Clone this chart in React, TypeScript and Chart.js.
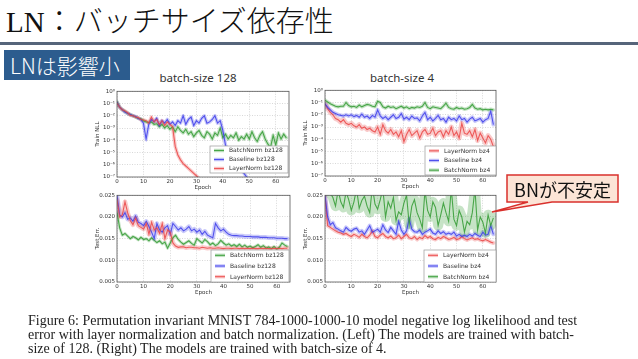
import React, { useEffect, useRef } from "react";
import { Chart, registerables } from "chart.js";
Chart.register(...registerables);

// ---------- data ----------
const EPOCHS = Array.from({ length: 65 }, (_, i) => i);
const X_TICKS = [0, 10, 20, 30, 40, 50, 60];
const NLL_TICKS = [1e-7, 1e-6, 1e-5, 1e-4, 1e-3, 1e-2, 1e-1, 1];
const NLL_TICK_LABELS = ["10⁻⁷", "10⁻⁶", "10⁻⁵", "10⁻⁴", "10⁻³", "10⁻²", "10⁻¹", "10⁰"];
const ERR_TICKS = [0.005, 0.01, 0.015, 0.02, 0.025];
const ERR_TICK_LABELS = ["0.005", "0.010", "0.015", "0.020", "0.025"];

// Train NLL, batch-size 128 (log10 values)
const NLL128_BN = [-0.85, -1.3, -1.5, -1.65, -1.8, -1.9, -2.0, -2.1, -2.2, -2.25, -2.4, -2.5, -2.55, -2.5, -2.7, -2.65, -2.9, -2.7, -3.0, -2.8, -3.1, -2.9, -3.3, -2.9, -3.2, -3.4, -3.1, -3.5, -3.3, -3.7, -3.4, -3.2, -3.6, -3.8, -3.3, -3.5, -3.9, -3.4, -3.6, -3.0, -3.8, -3.5, -3.9, -3.6, -3.8, -3.4, -4.0, -3.7, -3.9, -3.5, -3.9, -3.3, -3.8, -4.1, -3.6, -3.3, -3.9, -4.3, -4.6, -3.6, -4.4, -3.4, -3.9, -3.5, -3.8];
const NLL128_BASE = [-0.9, -1.3, -1.5, -1.7, -1.8, -1.9, -2.0, -2.05, -2.2, -2.3, -2.6, -3.9, -2.7, -2.3, -2.5, -2.2, -2.8, -2.4, -2.6, -2.3, -2.7, -2.5, -2.8, -2.4, -2.6, -2.0, -2.7, -2.3, -2.1, -2.8, -2.4, -2.6, -2.2, -2.0, -2.6, -2.5, -2.3, -2.0, -2.6, -2.4, -3.2, -4.4, -4.8, -5.1, -5.5, -5.8, -6.1, -6.4, -6.7, -7.0, -7.3, null, null, null, null, null, null, null, null, null, null, null, null, null, null];
const NLL128_LN = [-0.95, -1.3, -1.5, -1.6, -1.75, -1.95, -2.0, -2.1, -2.15, -2.3, -2.35, -2.4, -2.6, -2.1, -2.5, -2.3, -2.7, -2.4, -2.8, -2.5, -2.7, -2.9, -4.5, -5.2, -5.6, -5.9, -6.1, -6.3, -6.5, -6.7, -6.9, -7.1, -7.3, null, null, null, null, null, null, null, null, null, null, null, null, null, null, null, null, null, null, null, null, null, null, null, null, null, null, null, null, null, null, null, null];

// Train NLL, batch-size 4 (log10 values)
const NLL4_LN = [-1.1, -1.5, -1.8, -2.0, -2.3, -2.4, -2.6, -2.4, -2.7, -2.8, -2.7, -2.9, -3.0, -2.8, -3.1, -3.0, -3.2, -3.1, -3.3, -3.4, -3.0, -3.6, -2.8, -3.3, -3.5, -3.2, -3.6, -3.4, -3.8, -3.3, -4.2, -3.6, -3.2, -3.7, -3.5, -3.3, -3.9, -3.4, -3.2, -3.6, -3.5, -3.1, -3.7, -3.4, -3.3, -3.8, -3.3, -3.6, -3.0, -3.7, -3.4, -3.9, -2.7, -3.5, -3.6, -3.3, -3.8, -3.2, -4.1, -3.5, -3.9, -4.3, -3.7, -4.0, -4.6];
const NLL4_BASE = [-1.1, -1.4, -1.6, -1.8, -1.9, -2.0, -2.05, -2.1, -2.0, -2.1, -2.0, -2.15, -2.05, -2.2, -1.95, -2.2, -2.1, -2.3, -2.05, -2.2, -1.6, -2.1, -2.3, -2.15, -2.4, -2.2, -2.0, -2.3, -2.2, -1.9, -2.35, -2.2, -2.4, -2.1, -2.3, -2.25, -2.5, -2.1, -1.8, -2.4, -2.2, -2.5, -2.3, -2.05, -2.4, -2.3, -2.6, -2.2, -2.4, -2.3, -2.5, -2.1, -2.4, -2.3, -2.6, -2.35, -2.2, -2.5, -2.4, -2.3, -2.6, -2.4, -2.3, -1.7, -2.8];
const NLL4_BN = [-0.8, -0.95, -1.1, -1.2, -1.3, -1.35, -1.3, -1.3, -1.0, -1.25, -1.35, -1.3, -1.4, -1.2, -1.35, -1.25, -1.15, -1.2, -1.3, -1.35, -0.9, -1.0, -1.35, -1.45, -1.3, -1.4, -1.35, -1.5, -1.4, -1.3, -1.45, -1.35, -1.5, -1.4, -1.45, -1.35, -1.4, -1.3, -1.0, -1.4, -1.5, -1.35, -1.4, -1.45, -1.5, -1.3, -1.05, -1.4, -1.5, -1.55, -1.4, -1.5, -1.45, -1.55, -1.5, -1.4, -1.15, -1.45, -1.55, -1.5, -1.6, -1.55, -1.6, -1.55, -1.6];

// Test error, batch-size 128
const ERR128_BN = [0.021, 0.0175, 0.0158, 0.0162, 0.0156, 0.015, 0.0155, 0.0152, 0.0147, 0.0153, 0.0148, 0.015, 0.0145, 0.0152, 0.0146, 0.0141, 0.0145, 0.0138, 0.0142, 0.0128, 0.014, 0.0152, 0.0158, 0.0148, 0.0142, 0.0137, 0.0141, 0.0145, 0.0139, 0.0135, 0.015, 0.0145, 0.014, 0.0148, 0.0143, 0.0136, 0.014, 0.0134, 0.0138, 0.0146, 0.014, 0.0135, 0.0138, 0.0133, 0.0136, 0.0132, 0.0137, 0.0131, 0.0135, 0.013, 0.0133, 0.0129, 0.0132, 0.0136, 0.013, 0.0134, 0.0128, 0.0131, 0.0127, 0.0132, 0.0126, 0.013, 0.014, 0.0135, 0.0132];
const ERR128_BASE = [0.025, 0.0205, 0.02, 0.021, 0.0195, 0.0198, 0.019, 0.0202, 0.0188, 0.0185, 0.018, 0.019, 0.0178, 0.0165, 0.015, 0.0185, 0.017, 0.0165, 0.0175, 0.018, 0.016, 0.0185, 0.0178, 0.017, 0.0175, 0.0168, 0.0172, 0.0178, 0.0168, 0.0172, 0.0165, 0.017, 0.016, 0.0167, 0.0158, 0.0155, 0.0152, 0.0185, 0.0175, 0.0168, 0.0172, 0.0165, 0.016, 0.0158, 0.0157, 0.0157, 0.0156, 0.0156, 0.0155, 0.0155, 0.0155, 0.0154, 0.0154, 0.0154, 0.0153, 0.0153, 0.0153, 0.0152, 0.0152, 0.0152, 0.0151, 0.0151, 0.0151, 0.015, 0.015];
const ERR128_LN = [0.024, 0.02, 0.0205, 0.0235, 0.021, 0.0192, 0.0182, 0.0198, 0.018, 0.0176, 0.0172, 0.0185, 0.016, 0.0188, 0.017, 0.0175, 0.0162, 0.0185, 0.015, 0.017, 0.0165, 0.014, 0.0133, 0.013, 0.0131, 0.0131, 0.0129, 0.013, 0.013, 0.0129, 0.0129, 0.0128, 0.013, 0.0129, 0.0128, 0.0129, 0.0128, 0.0128, 0.0129, 0.0128, 0.0127, 0.0128, 0.0128, 0.0127, 0.0128, 0.0128, 0.0127, 0.0128, 0.0127, 0.0128, 0.0127, 0.0128, 0.0127, 0.0127, 0.0128, 0.0127, 0.0128, 0.0127, 0.0127, 0.0128, 0.0127, 0.0128, 0.0127, 0.0128, 0.0128];

// Test error, batch-size 4
const ERR4_LN = [0.025, 0.018, 0.0176, 0.0172, 0.0168, 0.0165, 0.0163, 0.016, 0.0162, 0.0158, 0.0155, 0.016, 0.0157, 0.0153, 0.016, 0.0155, 0.0152, 0.0158, 0.0168, 0.0155, 0.0152, 0.0158, 0.0162, 0.0155, 0.0152, 0.0156, 0.015, 0.0152, 0.0158, 0.015, 0.0155, 0.016, 0.0152, 0.015, 0.0155, 0.0148, 0.0153, 0.015, 0.0157, 0.0152, 0.0155, 0.015, 0.0148, 0.0153, 0.015, 0.0155, 0.0152, 0.0148, 0.015, 0.0153, 0.0148, 0.015, 0.0155, 0.015, 0.0147, 0.015, 0.0152, 0.0148, 0.015, 0.0147, 0.0145, 0.0148, 0.0145, 0.0142, 0.014];
const ERR4_BASE = [0.025, 0.02, 0.0182, 0.0187, 0.0175, 0.0172, 0.0168, 0.0165, 0.0176, 0.017, 0.0167, 0.0172, 0.0174, 0.0165, 0.0168, 0.016, 0.017, 0.018, 0.0165, 0.0168, 0.0172, 0.0165, 0.0182, 0.017, 0.0164, 0.0176, 0.0168, 0.016, 0.019, 0.017, 0.016, 0.0168, 0.0196, 0.0172, 0.0166, 0.0165, 0.017, 0.016, 0.0165, 0.0168, 0.0172, 0.0163, 0.016, 0.0168, 0.0162, 0.0166, 0.016, 0.0163, 0.016, 0.0165, 0.0156, 0.016, 0.0155, 0.0158, 0.0155, 0.016, 0.0156, 0.0162, 0.0158, 0.0155, 0.0165, 0.0158, 0.016, 0.018, 0.016];
const ERR4_BN = [0.0265, 0.026, 0.0255, 0.0245, 0.0225, 0.0262, 0.0235, 0.0222, 0.0258, 0.024, 0.0215, 0.0235, 0.0265, 0.022, 0.0238, 0.0248, 0.0225, 0.021, 0.027, 0.023, 0.0218, 0.024, 0.0265, 0.02, 0.0235, 0.022, 0.0245, 0.0192, 0.0212, 0.0205, 0.0232, 0.025, 0.0183, 0.0225, 0.024, 0.021, 0.0195, 0.0175, 0.0262, 0.0215, 0.02, 0.0235, 0.0222, 0.018, 0.0205, 0.0232, 0.021, 0.019, 0.0265, 0.0195, 0.018, 0.0215, 0.02, 0.0165, 0.019, 0.0182, 0.021, 0.0265, 0.017, 0.02, 0.0188, 0.0163, 0.0205, 0.018, 0.0198];

// ---------- styling ----------
const GREEN = [50, 155, 50];
const BLUE = [60, 60, 235];
const RED = [235, 70, 70];
const rgba = (c: number[], a: number) => `rgba(${c[0]},${c[1]},${c[2]},${a})`;
const TICK_FONT = { family: "DejaVu Sans", size: 5.5 };
const TITLE_FONT = { family: "DejaVu Sans", size: 5.5 };

type Series = { label: string; values: (number | null)[]; rgb: number[]; band: number; z: number };
type PanelProps = {
  left: number; top: number; width: number; height: number;
  log: boolean; yTitle: string; series: Series[];
  legend: { w: number; h: number; mr: number; mb: number };
};

const framePlugin = {
  id: "frame",
  afterDatasetsDraw(chart: any) {
    const { ctx, chartArea: a } = chart;
    ctx.save();
    ctx.strokeStyle = "#555";
    ctx.lineWidth = 0.8;
    ctx.strokeRect(a.left, a.top, a.right - a.left, a.bottom - a.top);
    ctx.restore();
  },
};

const legendPlugin = {
  id: "innerLegend",
  afterDatasetsDraw(chart: any, _args: any, opts: any) {
    const { ctx, chartArea: a } = chart;
    const { w, h, mr, mb, items } = opts;
    const x0 = a.right - mr - w;
    const y0 = a.bottom - mb - h;
    ctx.save();
    ctx.fillStyle = "#fff";
    ctx.fillRect(x0, y0, w, h);
    ctx.strokeStyle = "#999";
    ctx.lineWidth = 0.7;
    ctx.strokeRect(x0, y0, w, h);
    const rowH = h / items.length;
    items.forEach((it: any, i: number) => {
      const cy = y0 + rowH * (i + 0.5);
      ctx.strokeStyle = rgba(it.rgb, 0.3);
      ctx.lineWidth = 3.5;
      ctx.beginPath(); ctx.moveTo(x0 + 4, cy); ctx.lineTo(x0 + 14, cy); ctx.stroke();
      ctx.strokeStyle = rgba(it.rgb, 0.85);
      ctx.lineWidth = 1.1;
      ctx.beginPath(); ctx.moveTo(x0 + 4, cy); ctx.lineTo(x0 + 14, cy); ctx.stroke();
      ctx.fillStyle = "#333";
      ctx.font = "6px 'DejaVu Sans'";
      ctx.textBaseline = "middle";
      ctx.fillText(it.label, x0 + 19, cy + 0.3);
    });
    ctx.restore();
  },
};

const Y_AXIS_W = 23;
const X_AXIS_H = 14;
const PAD_TOP = 5;
const PAD_RIGHT = 4;

function Panel(p: PanelProps) {
  const ref = useRef<HTMLCanvasElement>(null);
  useEffect(() => {
    const datasets: any[] = [];
    p.series.forEach((s) => {
      const pts = s.values.map((v, i) => ({ x: EPOCHS[i], y: v == null ? null : p.log ? Math.pow(10, v) : v }));
      datasets.push({
        data: pts, borderColor: rgba(s.rgb, 0.28), borderWidth: s.band, pointRadius: 0,
        order: 10 + s.z, clip: 0, borderJoinStyle: "round", borderCapStyle: "round", spanGaps: false,
      });
      datasets.push({
        data: pts, borderColor: rgba(s.rgb, 0.85), borderWidth: 1.1, pointRadius: 0,
        order: s.z, clip: 0, spanGaps: false,
      });
    });
    const yTicks = p.log ? NLL_TICKS : ERR_TICKS;
    const yLabels = p.log ? NLL_TICK_LABELS : ERR_TICK_LABELS;
    const common = {
      grid: { color: "#bdbdbd", lineWidth: 0.6, drawTicks: false },
      border: { display: false, dash: [1, 1.5] },
    };
    const chart = new Chart(ref.current as HTMLCanvasElement, {
      type: "line",
      data: { datasets },
      options: {
        animation: false,
        responsive: false,
        maintainAspectRatio: false,
        layout: { padding: { top: PAD_TOP, right: PAD_RIGHT, left: 0, bottom: 0 } },
        plugins: {
          legend: { display: false },
          tooltip: { enabled: false },
          innerLegend: { ...p.legend, items: p.series.map((s) => ({ label: s.label, rgb: s.rgb })) },
        } as any,
        scales: {
          x: {
            type: "linear", min: 0, max: 65,
            afterBuildTicks: (s: any) => { s.ticks = X_TICKS.map((v) => ({ value: v })); },
            afterFit: (s: any) => { s.height = X_AXIS_H; },
            ticks: { font: TICK_FONT, color: "#333", padding: 1.5, maxRotation: 0, autoSkip: false, callback: (v: any) => String(v) },
            title: { display: true, text: "Epoch", font: TITLE_FONT, color: "#333", padding: { top: 0, bottom: 0 } },
            ...common,
          },
          y: {
            type: p.log ? "logarithmic" : "linear",
            min: p.log ? 1e-7 : 0.005,
            max: p.log ? 1 : 0.025,
            afterBuildTicks: (s: any) => { s.ticks = yTicks.map((v) => ({ value: v })); },
            afterFit: (s: any) => { s.width = Y_AXIS_W; },
            ticks: { font: TICK_FONT, color: "#333", padding: 2, autoSkip: false, callback: (_v: any, i: number) => yLabels[i] },
            title: { display: true, text: p.yTitle, font: TITLE_FONT, color: "#333", padding: { top: 0, bottom: 0 } },
            ...common,
          },
        } as any,
      },
      plugins: [framePlugin, legendPlugin],
    } as any);
    return () => chart.destroy();
  }, []);
  return (
    <canvas
      ref={ref}
      width={p.width}
      height={p.height}
      style={{ position: "absolute", left: p.left, top: p.top, width: p.width, height: p.height }}
    />
  );
}

const CJK = "'Noto Sans CJK JP', 'Noto Sans', sans-serif";

export default function App() {
  const tl: Series[] = [
    { label: "BatchNorm bz128", values: NLL128_BN, rgb: GREEN, band: 3.5, z: 3 },
    { label: "Baseline bz128", values: NLL128_BASE, rgb: BLUE, band: 3.5, z: 2 },
    { label: "LayerNorm bz128", values: NLL128_LN, rgb: RED, band: 3.5, z: 1 },
  ];
  const tr: Series[] = [
    { label: "LayerNorm bz4", values: NLL4_LN, rgb: RED, band: 5, z: 3 },
    { label: "Baseline bz4", values: NLL4_BASE, rgb: BLUE, band: 4, z: 2 },
    { label: "BatchNorm bz4", values: NLL4_BN, rgb: GREEN, band: 3.5, z: 1 },
  ];
  const bl: Series[] = [
    { label: "BatchNorm bz128", values: ERR128_BN, rgb: GREEN, band: 3, z: 3 },
    { label: "Baseline bz128", values: ERR128_BASE, rgb: BLUE, band: 4.5, z: 2 },
    { label: "LayerNorm bz128", values: ERR128_LN, rgb: RED, band: 4.5, z: 1 },
  ];
  const br: Series[] = [
    { label: "LayerNorm bz4", values: ERR4_LN, rgb: RED, band: 4, z: 3 },
    { label: "Baseline bz4", values: ERR4_BASE, rgb: BLUE, band: 4, z: 2 },
    { label: "BatchNorm bz4", values: ERR4_BN, rgb: GREEN, band: 10, z: 1 },
  ];
  return (
    <div style={{ position: "fixed", left: 0, top: 0, width: 638, height: 359, background: "#fff", overflow: "hidden" }}>
      <div style={{ position: "absolute", left: 6, top: 6, fontSize: 29, lineHeight: "32px", color: "#111", fontFamily: "'Liberation Serif', 'Noto Sans CJK JP', serif", fontWeight: 300, whiteSpace: "nowrap" }}>
        LN：バッチサイズ依存性
      </div>
      <div style={{ position: "absolute", left: 0, top: 42, width: 638, height: 3, background: "#56657a" }} />
      <div style={{ position: "absolute", left: 4, top: 50, width: 126, height: 30, background: "#2c5c8e", color: "#fff", fontFamily: CJK, fontWeight: 300, fontSize: 21, lineHeight: "30px", paddingLeft: 6, boxSizing: "border-box", whiteSpace: "nowrap" }}>
        LNは影響小
      </div>
      <div style={{ position: "absolute", left: 138, top: 70, width: 120, textAlign: "center", fontFamily: "'Noto Sans', sans-serif", fontSize: 11.5, lineHeight: "16px", color: "#333" }}>
        batch-size 128
      </div>
      <div style={{ position: "absolute", left: 342, top: 70, width: 120, textAlign: "center", fontFamily: "'Noto Sans', sans-serif", fontSize: 11.5, lineHeight: "16px", color: "#333" }}>
        batch-size 4
      </div>

      <Panel left={94} top={86} width={199} height={105} log={true} yTitle="Train NLL" series={tl} legend={{ w: 78, h: 27, mr: 1, mb: 4 }} />
      <Panel left={302} top={85} width={198} height={105} log={true} yTitle="Train NLL" series={tr} legend={{ w: 71, h: 29, mr: 0, mb: 1 }} />
      <Panel left={94} top={190} width={200} height={106} log={false} yTitle="Test Err." series={bl} legend={{ w: 78, h: 32, mr: 1, mb: 0 }} />
      <Panel left={302} top={190} width={198} height={106} log={false} yTitle="Test Err." series={br} legend={{ w: 72, h: 32, mr: 0, mb: 0 }} />

      <svg width={638} height={359} style={{ position: "absolute", left: 0, top: 0, pointerEvents: "none" }}>
        <path d="M507,175 H618 V202 H552 L492,212 L528,202 H507 Z" fill="#fce4d6" stroke="#d9302c" strokeWidth={1.5} />
      </svg>
      <div style={{ position: "absolute", left: 507, top: 175, width: 111, height: 27, display: "flex", alignItems: "center", justifyContent: "center", fontFamily: CJK, fontSize: 18, color: "#111", whiteSpace: "nowrap" }}>
        BNが不安定
      </div>

      <div style={{ position: "absolute", left: 28, top: 314, width: 546, fontFamily: "'Liberation Serif', serif", fontSize: 14, lineHeight: "14px", color: "#222" }}>
        <div style={{ textAlign: "justify", textAlignLast: "justify", whiteSpace: "nowrap" as any }}>Figure 6: Permutation invariant MNIST 784-1000-1000-10 model negative log likelihood and test</div>
        <div style={{ textAlign: "justify", textAlignLast: "justify" }}>error with layer normalization and batch normalization. (Left) The models are trained with batch-</div>
        <div>size of 128. (Right) The models are trained with batch-size of 4.</div>
      </div>
    </div>
  );
}
